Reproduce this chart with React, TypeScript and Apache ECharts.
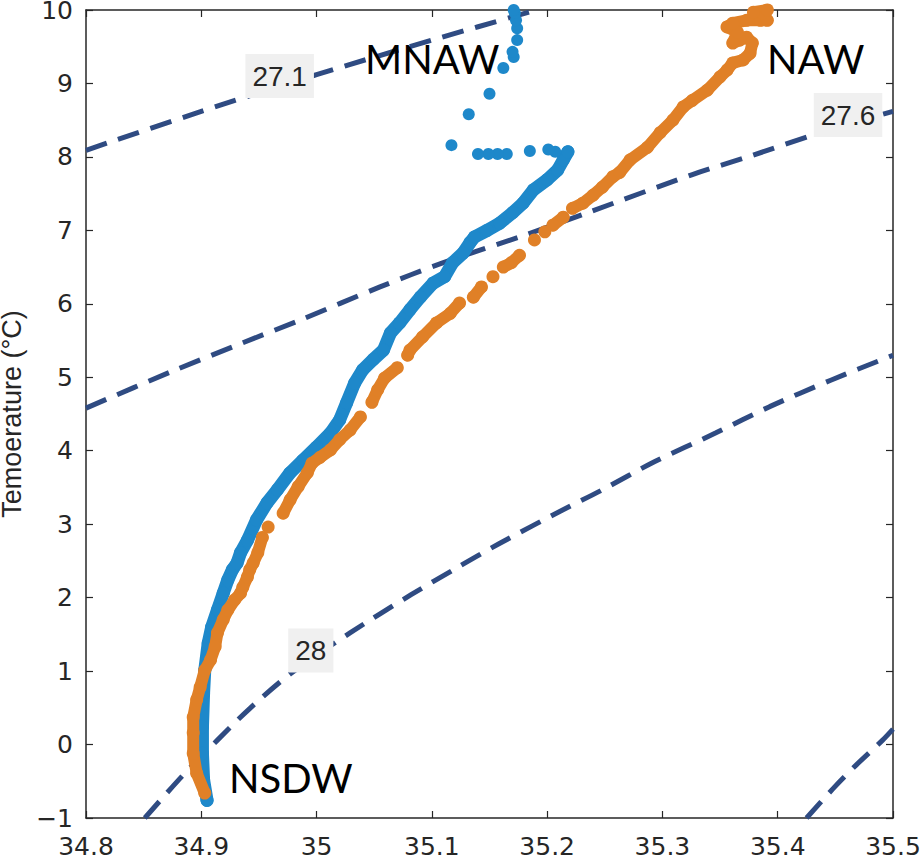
import { useEffect, useRef } from 'react';
import * as echarts from 'echarts';

// salinity / temperature pairs
const mnawProfile: number[][] = [
  [34.905, -0.76], [34.902, -0.48], [34.901, -0.12], [34.901, 0.24], [34.902, 0.7],
  [34.903, 1.01], [34.906, 1.38], [34.909, 1.6], [34.914, 1.83], [34.919, 2.06],
  [34.923, 2.24], [34.927, 2.38], [34.931, 2.47], [34.934, 2.61], [34.94, 2.78],
  [34.948, 3.06], [34.957, 3.29], [34.966, 3.47], [34.977, 3.7], [34.988, 3.87],
  [35.0, 4.05], [35.012, 4.24], [35.02, 4.42], [35.026, 4.65], [35.033, 4.92],
  [35.04, 5.1], [35.049, 5.24], [35.058, 5.37], [35.064, 5.6], [35.072, 5.74],
  [35.081, 5.92], [35.09, 6.09], [35.101, 6.28], [35.111, 6.37], [35.118, 6.56],
  [35.127, 6.69], [35.133, 6.83], [35.137, 6.91], [35.148, 7.0], [35.159, 7.1],
  [35.17, 7.24], [35.179, 7.37], [35.188, 7.55], [35.2, 7.69], [35.209, 7.82],
  [35.214, 7.96], [35.218, 8.07],
];

const mnawSparse: number[][] = [
  [35.207, 8.07], [35.201, 8.1], [35.185, 8.08], [35.165, 8.04], [35.157, 8.04],
  [35.149, 8.04], [35.14, 8.04], [35.117, 8.16], [35.132, 8.58], [35.15, 8.86],
  [35.162, 9.21], [35.171, 9.36], [35.17, 9.43], [35.174, 9.59], [35.174, 9.75],
  [35.173, 9.86], [35.172, 9.96], [35.171, 10.0],
];

// NAW profile, split where the trace has gaps
const nawSegments: number[][][] = [
  [
    [34.903, -0.66], [34.896, -0.39], [34.893, -0.12], [34.893, 0.16], [34.893, 0.37],
    [34.896, 0.61], [34.899, 0.78], [34.903, 1.01], [34.908, 1.15], [34.912, 1.33],
    [34.914, 1.52], [34.919, 1.7], [34.923, 1.83], [34.929, 1.97], [34.934, 2.06],
    [34.936, 2.14], [34.94, 2.28], [34.942, 2.38], [34.945, 2.47], [34.949, 2.61],
    [34.953, 2.82],
  ],
  [[34.958, 2.96]],
  [
    [34.971, 3.15], [34.977, 3.33], [34.984, 3.51], [34.992, 3.7], [34.996, 3.83],
    [35.003, 3.91], [35.012, 4.01], [35.02, 4.15], [35.029, 4.28], [35.038, 4.46],
  ],
  [[35.048, 4.66], [35.053, 4.83], [35.059, 4.99], [35.07, 5.13]],
  [[35.079, 5.3], [35.081, 5.37], [35.092, 5.55], [35.104, 5.74], [35.116, 5.87], [35.124, 6.01]],
  [[35.136, 6.09], [35.143, 6.23]],
  [[35.153, 6.37]],
  [[35.162, 6.5], [35.169, 6.56], [35.176, 6.66]],
  [[35.189, 6.87]],
  [[35.198, 6.98]],
  [[35.205, 7.07], [35.214, 7.18]],
  [
    [35.222, 7.3], [35.231, 7.37], [35.24, 7.48], [35.248, 7.59], [35.257, 7.73],
    [35.263, 7.79], [35.272, 7.96], [35.287, 8.13], [35.298, 8.33], [35.309, 8.5],
    [35.318, 8.68], [35.326, 8.77], [35.339, 8.91], [35.35, 9.09], [35.356, 9.18],
    [35.361, 9.28], [35.37, 9.32], [35.376, 9.41], [35.378, 9.55], [35.373, 9.63],
    [35.367, 9.59], [35.361, 9.55], [35.365, 9.7], [35.356, 9.77], [35.361, 9.82],
    [35.373, 9.86], [35.385, 9.86], [35.391, 9.86], [35.387, 9.96], [35.391, 10.0],
    [35.379, 9.97],
  ],
];

// isopycnals (sigma-theta)
const iso271: number[][] = [
  [34.8, 8.09], [34.9, 8.62], [35.0, 9.12], [35.1, 9.59], [35.191, 10.0],
];
const iso276: number[][] = [
  [34.8, 4.58], [34.873, 5.07], [34.936, 5.47], [34.986, 5.78], [35.055, 6.23],
  [35.11, 6.56], [35.176, 6.91], [35.235, 7.24], [35.326, 7.76],
  [35.378, 8.02], [35.431, 8.3], [35.5, 8.62],
];
const iso280: number[][] = [
  [34.851, -1.0], [34.884, -0.42], [34.914, 0.06], [34.942, 0.49],
  [34.977, 0.96], [35.029, 1.52], [35.082, 2.04], [35.121, 2.4], [35.159, 2.74],
  [35.213, 3.19], [35.247, 3.46], [35.293, 3.85], [35.346, 4.24], [35.393, 4.6],
  [35.446, 4.96], [35.5, 5.3],
];
const iso281: number[][] = [
  [35.425, -1.0], [35.448, -0.6], [35.468, -0.28], [35.491, 0.06], [35.5, 0.21],
];

const contourLabels = [
  { name: '27.1', value: [34.968, 9.1] },
  { name: '27.6', value: [35.461, 8.57] },
  { name: '28', value: [34.995, 1.28] },
];

const waterMasses = [
  { text: 'MNAW', left: 365, top: 39 },
  { text: 'NAW', left: 767, top: 39 },
  { text: 'NSDW', left: 229, top: 758 },
];

const BLUE = '#1e88ca';
const ORANGE = '#e08027';
const ISO = '#2f4b82';
const AXIS = '#262626';
const TICK_FONT = '"DejaVu Sans", Arial, sans-serif';
const FONT = '"Liberation Sans", Arial, Helvetica, sans-serif';

function joinSegments(segs: number[][][]) {
  const out: (number | string)[][] = [];
  segs.forEach((s, i) => {
    if (i > 0) out.push(['-', '-']);
    s.forEach((p) => out.push(p));
  });
  return out;
}

export default function App() {
  const ref = useRef<HTMLDivElement>(null);

  useEffect(() => {
    if (!ref.current) return;
    const chart = echarts.init(ref.current, undefined, { renderer: 'svg' });

    const isoLine = (data: number[][]) => ({
      type: 'line',
      data,
      smooth: 0.3,
      showSymbol: false,
      silent: true,
      z: 1,
      lineStyle: { color: ISO, width: 5, type: [22, 12] },
    });

    const axisLine = { show: true, onZero: false, lineStyle: { color: AXIS, width: 1.5 } };
    const axisTick = { show: true, inside: true, length: 7, lineStyle: { color: AXIS, width: 1.2 } };

    chart.setOption({
      animation: false,
      grid: {
        left: 86, right: 28, top: 10, bottom: 44,
        containLabel: false, outerBoundsMode: 'none',
      },
      xAxis: [
        {
          type: 'value', min: 34.8, max: 35.5, interval: 0.1, position: 'bottom',
          axisLine, axisTick, splitLine: { show: false },
          axisLabel: { fontSize: 25, color: AXIS, margin: 16, fontFamily: TICK_FONT },
        },
        {
          type: 'value', min: 34.8, max: 35.5, interval: 0.1, position: 'top',
          axisLine, axisTick, splitLine: { show: false }, axisLabel: { show: false },
        },
      ],
      yAxis: [
        {
          type: 'value', min: -1, max: 10, interval: 1, position: 'left',
          axisLine, axisTick, splitLine: { show: false },
          axisLabel: {
            fontSize: 25, color: AXIS, margin: 13, fontFamily: TICK_FONT,
            formatter: (v: number) => (v < 0 ? '\u2212' + Math.abs(v) : String(v)),
          },
          name: 'Temoerature (°C)',
          nameLocation: 'middle',
          nameGap: 57,
          nameTextStyle: { fontSize: 27, color: AXIS, fontFamily: FONT },
        },
        {
          type: 'value', min: -1, max: 10, interval: 1, position: 'right',
          axisLine, axisTick, splitLine: { show: false }, axisLabel: { show: false },
        },
      ],
      series: [
        isoLine(iso271),
        isoLine(iso276),
        isoLine(iso280),
        isoLine(iso281),
        {
          type: 'line',
          data: mnawProfile,
          symbol: 'circle',
          symbolSize: 13,
          showSymbol: true,
          showAllSymbol: true,
          z: 2,
          itemStyle: { color: BLUE },
          lineStyle: { color: BLUE, width: 13, cap: 'round', join: 'round' },
        },
        {
          type: 'scatter',
          data: mnawSparse,
          symbolSize: 12,
          z: 2,
          itemStyle: { color: BLUE, opacity: 1 },
        },
        {
          type: 'line',
          data: joinSegments(nawSegments),
          symbol: 'circle',
          symbolSize: 13,
          showSymbol: true,
          showAllSymbol: true,
          connectNulls: false,
          z: 3,
          itemStyle: { color: ORANGE },
          lineStyle: { color: ORANGE, width: 12, cap: 'round', join: 'round' },
        },
        {
          type: 'scatter',
          data: contourLabels,
          symbolSize: 0,
          z: 5,
          itemStyle: { color: AXIS, opacity: 1 },
          label: {
            show: true,
            position: 'inside',
            formatter: '{b}',
            fontSize: 28,
            color: AXIS,
            opacity: 1,
            fontFamily: FONT,
            backgroundColor: '#f0f0f0',
            padding: [8, 7, 8, 7],
          },
        },
      ],
      graphic: waterMasses.map((w) => ({
        type: 'text',
        left: w.left,
        top: w.top,
        z: 10,
        style: { text: w.text, font: '40px Lato', fill: '#000' },
      })),
    });

    return () => chart.dispose();
  }, []);

  return (
    <div
      ref={ref}
      style={{ position: 'absolute', left: 0, top: 0, width: 921, height: 862, background: '#fff' }}
    />
  );
}
